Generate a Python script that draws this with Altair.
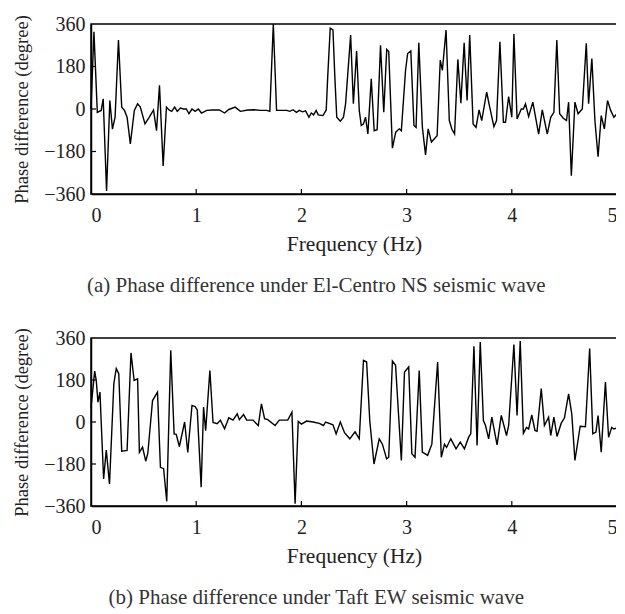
import altair as alt
import pandas as pd

X_TICKS = [0, 1, 2, 3, 4, 5]
Y_TICKS = [-360, -180, 0, 180, 360]

# (a) El-Centro NS
a_freq = [0.0, 0.028, 0.06, 0.097, 0.116, 0.148, 0.179, 0.204, 0.229, 0.261,
          0.292, 0.318, 0.343, 0.374, 0.412, 0.443, 0.469, 0.513, 0.553, 0.594,
          0.623, 0.651, 0.686, 0.717, 0.742, 0.767, 0.795, 0.82, 0.85, 0.88,
          0.906, 0.931, 0.96, 0.99, 1.02, 1.05, 1.1, 1.16, 1.22, 1.27,
          1.31, 1.37, 1.42, 1.49, 1.55, 1.61, 1.67, 1.70, 1.733, 1.764,
          1.80, 1.86, 1.89, 1.92, 1.953, 1.98, 2.01, 2.04, 2.072, 2.094,
          2.116, 2.14, 2.16, 2.205, 2.236, 2.25, 2.274, 2.30, 2.318, 2.336,
          2.37, 2.40, 2.42, 2.468, 2.494, 2.525, 2.55, 2.569, 2.59, 2.61,
          2.632, 2.664, 2.692, 2.72, 2.752, 2.783, 2.811, 2.83, 2.865, 2.897,
          2.93, 2.95, 2.99, 3.01, 3.04, 3.07, 3.09, 3.116, 3.15, 3.18,
          3.205, 3.236, 3.29, 3.32, 3.34, 3.375, 3.406, 3.43, 3.456, 3.487,
          3.516, 3.547, 3.575, 3.60, 3.632, 3.66, 3.689, 3.714, 3.761, 3.79,
          3.83, 3.855, 3.887, 3.92, 3.94, 3.97, 4.0, 4.02, 4.05, 4.09,
          4.11, 4.13, 4.16, 4.2, 4.255, 4.29, 4.337, 4.37, 4.40, 4.428,
          4.455, 4.49, 4.52, 4.54, 4.566, 4.60, 4.63, 4.67, 4.708, 4.73,
          4.761, 4.79, 4.82, 4.85, 4.88, 4.91, 4.94, 4.97, 5.0]
a_phase = [0, 327, -14, -6, 43, -347, 36, -85, -35, 292,
           8, -6, -35, -148, -6, 22, 8, -63, -35, -4,
           -92, 100, -241, 8, -4, -10, 8, -10, 4, 0,
           0, -20, 0, -10, 0, -17, -6, -4, -4, -17,
           -2, 8, -10, -4, -3, -6, -6, -10, 360, -6,
           -6, -6, -10, -3, -14, -6, -12, -8, -35, -17,
           -25, -6, -25, -28, -4, 135, 342, 335, 135, -35,
           -52, -35, 22, 313, 22, 246, -6, -70, -63, -35,
           -106, 128, -92, -88, 270, -14, 252, 243, -166, -98,
           -84, -92, 164, 235, 246, -70, -78, 280, -78, -194,
           -84, -140, -113, 207, 164, 334, -49, -85, -106, 210,
           25, 280, 36, 313, -63, -78, -4, -49, 72, 8,
           -75, -49, 285, -56, -56, 53, -35, 318, -42, 0,
           0, 22, -32, 29, -106, -4, -106, -35, -14, 292,
           -20, -39, -49, 29, -283, 29, -20, 0, 278, 22,
           214, -49, -202, -28, -84, 36, -6, -35, -20]

# (b) Taft EW
b_freq = [0.0, 0.035, 0.05, 0.066, 0.085, 0.12, 0.145, 0.176, 0.217, 0.24,
          0.264, 0.292, 0.343, 0.38, 0.41, 0.443, 0.46, 0.49, 0.52, 0.54,
          0.585, 0.632, 0.66, 0.69, 0.72, 0.758, 0.79, 0.81, 0.84, 0.89,
          0.92, 0.96, 0.99, 1.01, 1.047, 1.07, 1.09, 1.13, 1.16, 1.2,
          1.23, 1.27, 1.31, 1.35, 1.39, 1.41, 1.45, 1.48, 1.54, 1.59,
          1.62, 1.65, 1.68, 1.75, 1.79, 1.87, 1.91, 1.94, 1.97, 2.0,
          2.05, 2.11, 2.17, 2.21, 2.23, 2.30, 2.33, 2.37, 2.41, 2.46,
          2.51, 2.55, 2.59, 2.62, 2.65, 2.69, 2.74, 2.77, 2.81, 2.83,
          2.865, 2.895, 2.95, 2.98, 3.02, 3.05, 3.08, 3.12, 3.15, 3.2,
          3.24, 3.295, 3.33, 3.36, 3.38, 3.42, 3.47, 3.51, 3.55, 3.59,
          3.61, 3.64, 3.67, 3.70, 3.73, 3.75, 3.78, 3.81, 3.86, 3.90,
          3.95, 3.97, 4.02, 4.05, 4.08, 4.11, 4.14, 4.16, 4.19, 4.22,
          4.24, 4.28, 4.31, 4.35, 4.37, 4.40, 4.43, 4.47, 4.5, 4.54,
          4.57, 4.60, 4.65, 4.70, 4.74, 4.77, 4.80, 4.82, 4.85, 4.89,
          4.92, 4.95, 4.97, 5.0]
b_phase = [60, 218, 178, 85, 128, -244, -120, -266, 164, 229,
           207, -125, -122, 296, 178, 185, -130, -108, -168, -135,
           92, 128, -194, -200, -340, 307, -51, -53, -105, 0,
           -130, 71, 66, 52, -280, 64, -37, 221, -2, -7,
           8, -29, 18, 8, 35, 10, 32, 8, 8, -15,
           78, 14, 10, -15, 8, 8, 42, -350, 2, -9,
           4, 0, -6, -15, 0, -12, -51, 0, -46, -72,
           -42, -72, 264, 257, 5, -180, -72, -95, -158, -151,
           261, 243, -165, 214, 236, -136, -151, 221, -129, -143,
           -95, 257, -151, -95, -109, -72, -115, -86, -115, -65,
           -51, 325, -101, 343, 6, -15, -72, 21, -98, 28,
           -58, -15, 332, 28, 347, -49, -23, -30, 30, -36,
           -40, 143, -15, 21, -58, 21, -62, -5, 17, 121,
           35, -165, -18, -20, 315, -51, -43, 28, -129, 171,
           -65, -23, -30, -25]

CAPTIONS = ["(a)  Phase difference under El-Centro NS seismic wave",
            "(b)  Phase difference under Taft EW seismic wave"]

W = 526
HEIGHTS = [170, 168]
FONT = "Liberation Serif"


def panel(freq, phase, caption, h):
    df = pd.DataFrame({"f": freq, "p": phase})
    xs = alt.Scale(domain=[0, 5], nice=False, zero=False)
    ys = alt.Scale(domain=[-360, 360], nice=False)
    line = alt.Chart(df).mark_line(color="black", strokeWidth=1.4).encode(
        x=alt.X("f:Q", scale=xs,
                axis=alt.Axis(values=X_TICKS, format="d", title="Frequency (Hz)",
                              ticks=False, labelPadding=11, titlePadding=8,
                              titleFontSize=21.5, grid=False)),
        y=alt.Y("p:Q", scale=ys,
                axis=alt.Axis(values=Y_TICKS, format="d",
                              title="Phase difference (degree)",
                              ticks=False, labelPadding=6, titlePadding=12,
                              titleFontSize=18.5, grid=False)),
    )
    xt = alt.Chart(pd.DataFrame({"f": X_TICKS[1:-1]})).mark_rule(
        color="black", strokeWidth=1.2).encode(
        x=alt.X("f:Q", scale=xs), y=alt.value(h), y2=alt.value(h - 5))
    yt = alt.Chart(pd.DataFrame({"p": Y_TICKS[1:-1]})).mark_rule(
        color="black", strokeWidth=1.2).encode(
        y=alt.Y("p:Q", scale=ys), x=alt.value(0), x2=alt.value(5))
    return alt.layer(line, xt, yt).properties(
        width=W, height=h,
        title=alt.TitleParams(caption, orient="bottom", anchor="middle",
                              frame="bounds", fontSize=21, fontWeight="normal",
                              font=FONT, color="#333333", offset=20),
    )


chart = alt.vconcat(
    panel(a_freq, a_phase, CAPTIONS[0], HEIGHTS[0]),
    panel(b_freq, b_phase, CAPTIONS[1], HEIGHTS[1]),
    spacing=29,
).properties(padding={"left": 3, "top": 5, "right": -5, "bottom": 0}
).configure(font=FONT, background="white"
).configure_view(stroke="black", strokeWidth=1.5
).configure_axis(
    labelFont=FONT, titleFont=FONT, labelFontSize=20,
    titleFontWeight="normal", labelColor="#222222", titleColor="#222222",
    domainColor="black", domainWidth=1.5,
)

chart.save("out.html", embed_options={"renderer": "svg", "actions": False})
